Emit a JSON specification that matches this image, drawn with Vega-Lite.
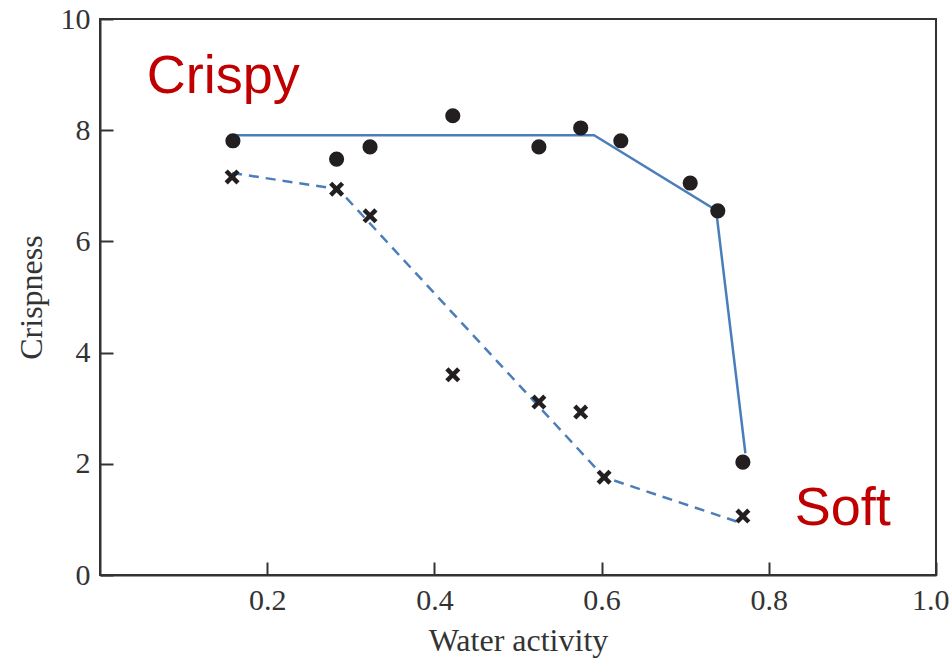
{
  "$schema": "https://vega.github.io/schema/vega-lite/v6.json",
  "width": 836,
  "height": 556,
  "autosize": {"type": "none"},
  "padding": {"left": 100, "top": 19, "right": 15, "bottom": 84},
  "background": "white",
  "config": {
    "view": {"stroke": "#333333", "strokeWidth": 2},
    "axis": {
      "grid": false,
      "domainColor": "#333333",
      "domainWidth": 2,
      "tickColor": "#333333",
      "tickWidth": 2,
      "tickSize": -13,
      "labelFont": "Liberation Serif",
      "labelFontSize": 30,
      "labelColor": "#333333",
      "titleFont": "Liberation Serif",
      "titleFontSize": 32,
      "titleFontWeight": "normal",
      "titleColor": "#333333"
    }
  },
  "datasets": {
    "points": [
      {"aw": 0.159, "crispness": 7.81, "kind": "circle"},
      {"aw": 0.283, "crispness": 7.48, "kind": "circle"},
      {"aw": 0.323, "crispness": 7.70, "kind": "circle"},
      {"aw": 0.422, "crispness": 8.26, "kind": "circle"},
      {"aw": 0.525, "crispness": 7.70, "kind": "circle"},
      {"aw": 0.575, "crispness": 8.04, "kind": "circle"},
      {"aw": 0.623, "crispness": 7.81, "kind": "circle"},
      {"aw": 0.706, "crispness": 7.05, "kind": "circle"},
      {"aw": 0.739, "crispness": 6.55, "kind": "circle"},
      {"aw": 0.769, "crispness": 2.03, "kind": "circle"},
      {"aw": 0.158, "crispness": 7.16, "kind": "cross"},
      {"aw": 0.283, "crispness": 6.94, "kind": "cross"},
      {"aw": 0.323, "crispness": 6.46, "kind": "cross"},
      {"aw": 0.422, "crispness": 3.60, "kind": "cross"},
      {"aw": 0.525, "crispness": 3.11, "kind": "cross"},
      {"aw": 0.575, "crispness": 2.93, "kind": "cross"},
      {"aw": 0.603, "crispness": 1.76, "kind": "cross"},
      {"aw": 0.769, "crispness": 1.06, "kind": "cross"}
    ],
    "fits": [
      {"aw": 0.158, "crispness": 7.91, "kind": "circle"},
      {"aw": 0.591, "crispness": 7.91, "kind": "circle"},
      {"aw": 0.737, "crispness": 6.56, "kind": "circle"},
      {"aw": 0.772, "crispness": 2.19, "kind": "circle"},
      {"aw": 0.158, "crispness": 7.23, "kind": "cross"},
      {"aw": 0.285, "crispness": 6.94, "kind": "cross"},
      {"aw": 0.603, "crispness": 1.76, "kind": "cross"},
      {"aw": 0.766, "crispness": 0.94, "kind": "cross"}
    ],
    "labels": [
      {"aw": 0.056, "crispness": 8.67, "text": "Crispy"},
      {"aw": 0.831, "crispness": 0.9, "text": "Soft"}
    ]
  },
  "layer": [
    {
      "data": {"name": "fits"},
      "transform": [{"filter": "datum.kind === 'circle'"}],
      "mark": {"type": "line", "color": "#4A7EBB", "strokeWidth": 2.5},
      "encoding": {
        "x": {"field": "aw", "type": "quantitative", "scale": {"domain": [0, 1], "nice": false}, "axis": {"values": [0.2, 0.4, 0.6, 0.8, 1.0], "format": ".1f", "title": "Water activity", "labelPadding": 23, "titlePadding": 10, "labelFlush": true, "labelFlushOffset": 13}},
        "y": {"field": "crispness", "type": "quantitative", "scale": {"domain": [0, 10], "nice": false, "zero": true}, "axis": {"values": [0, 2, 4, 6, 8, 10], "title": "Crispness", "labelPadding": 23, "titlePadding": 12, "labelFlush": false}}
      }
    },
    {
      "data": {"name": "fits"},
      "transform": [{"filter": "datum.kind === 'cross'"}],
      "mark": {"type": "line", "color": "#4A7EBB", "strokeWidth": 2.5, "strokeDash": [10, 7]},
      "encoding": {
        "x": {"field": "aw", "type": "quantitative"},
        "y": {"field": "crispness", "type": "quantitative"}
      }
    },
    {
      "data": {"name": "points"},
      "transform": [{"filter": "datum.kind === 'circle'"}],
      "mark": {"type": "point", "shape": "circle", "filled": true, "color": "#231F20", "opacity": 1, "size": 230},
      "encoding": {
        "x": {"field": "aw", "type": "quantitative"},
        "y": {"field": "crispness", "type": "quantitative"}
      }
    },
    {
      "data": {"name": "points"},
      "transform": [{"filter": "datum.kind === 'cross'"}],
      "mark": {"type": "point", "shape": "M-1,-1L1,1M-1,1L1,-1", "filled": false, "stroke": "#231F20", "strokeWidth": 4.5, "opacity": 1, "size": 140},
      "encoding": {
        "x": {"field": "aw", "type": "quantitative"},
        "y": {"field": "crispness", "type": "quantitative"}
      }
    },
    {
      "data": {"name": "labels"},
      "mark": {"type": "text", "align": "left", "baseline": "alphabetic", "font": "Liberation Sans", "fontSize": 54, "color": "#C00000"},
      "encoding": {
        "x": {"field": "aw", "type": "quantitative"},
        "y": {"field": "crispness", "type": "quantitative"},
        "text": {"field": "text"}
      }
    }
  ]
}
